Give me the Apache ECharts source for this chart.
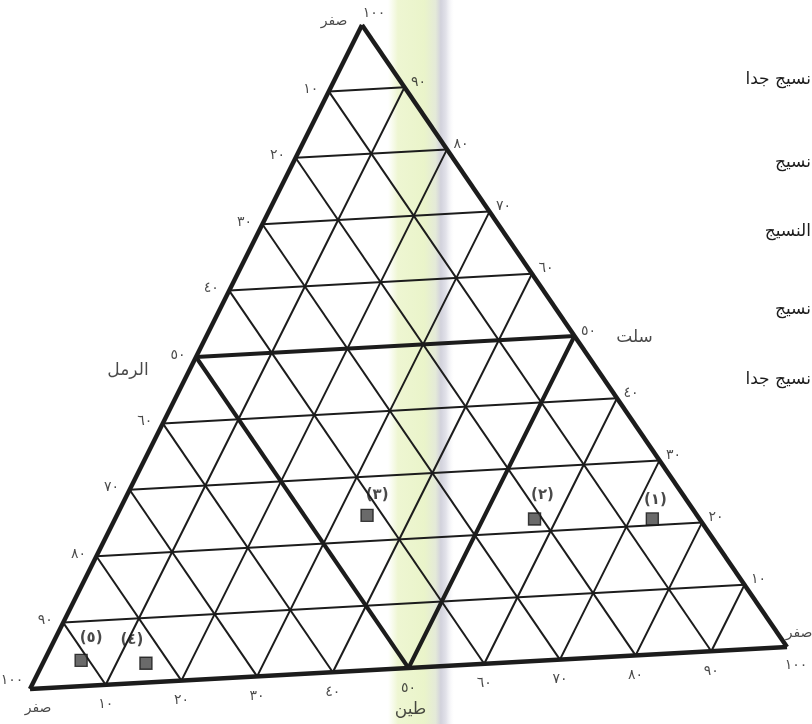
<!DOCTYPE html>
<html>
<head>
<meta charset="utf-8">
<script src="https://cdn.jsdelivr.net/npm/echarts@6/dist/echarts.min.js"></script>
<style>
  html, body { margin: 0; padding: 0; background: #ffffff; }
  #chart { width: 812px; height: 724px; }
</style>
</head>
<body>
<div id="chart"></div>
<script>
// Soil samples: percentages of sand, silt and clay
const sampleNames = ['(١)', '(٢)', '(٣)', '(٤)', '(٥)'];
const sampleSand = [6, 21, 42, 83, 91];
const sampleSilt = [21, 22, 24, 3, 4];
const sampleClay = [73, 57, 34, 14, 5];

// Grid steps and their tick labels (Arabic-Indic digits)
const gridSteps = [10, 20, 30, 40, 50, 60, 70, 80, 90];
const tickLabels = ['١٠', '٢٠', '٣٠', '٤٠', '٥٠', '٦٠', '٧٠', '٨٠', '٩٠'];
const fullLabel = '١٠٠';
const zeroLabel = 'صفر';

// Component names
const sandName = 'الرمل';
const siltName = 'سلت';
const clayName = 'طين';

// Texture classes listed beside the triangle
const textureClasses = ['نسيج جدا', 'نسيج', 'النسيج', 'نسيج', 'نسيج جدا'];

// ---- layout ----
const W = 812, H = 724;
const CORNER_SAND = [30, 689];
const CORNER_SILT = [362, 25];
const CORNER_CLAY = [787, 647];
const textureRowsY = [80, 163, 232, 310, 380];
const sampleLabelOffsets = [[3, -19], [8, -24], [10, -20], [-14, -23], [10, -22]];
const INK = '#1c1c1c';
const FONT = 'DejaVu Sans';

// ternary (sand, silt, clay) -> plot frame
function toXY(sand, silt, clay) {
  const t = sand + silt + clay;
  return [
    (sand * CORNER_SAND[0] + silt * CORNER_SILT[0] + clay * CORNER_CLAY[0]) / t,
    (sand * CORNER_SAND[1] + silt * CORNER_SILT[1] + clay * CORNER_CLAY[1]) / t
  ];
}

// grid lines at every step, the 50 % lines are drawn heavy
const thinLines = [];
const heavyLines = [];
gridSteps.forEach(function (v) {
  const rest = 100 - v;
  const bucket = v === 50 ? heavyLines : thinLines;
  bucket.push({ coords: [toXY(rest, v, 0), toXY(0, v, rest)] });   // constant silt
  bucket.push({ coords: [toXY(v, rest, 0), toXY(v, 0, rest)] });   // constant sand
  bucket.push({ coords: [toXY(rest, 0, v), toXY(0, rest, v)] });   // constant clay
});
const frameLines = [
  { coords: [toXY(100, 0, 0), toXY(0, 0, 100)] },
  { coords: [toXY(0, 0, 100), toXY(0, 100, 0)] },
  { coords: [toXY(0, 100, 0), toXY(100, 0, 0)] }
];

// tick label anchors on each edge
const sandTicks = gridSteps.map(function (v, i) {
  return { name: tickLabels[i], value: toXY(v, 100 - v, 0) };
});
const siltTicks = gridSteps.map(function (v, i) {
  return { name: tickLabels[i], value: toXY(0, v, 100 - v) };
});
const clayTicks = gridSteps.map(function (v, i) {
  return { name: tickLabels[i], value: toXY(100 - v, 0, v) };
});

const samplePoints = sampleNames.map(function (n, i) {
  return {
    name: n,
    value: toXY(sampleSand[i], sampleSilt[i], sampleClay[i]),
    label: { offset: sampleLabelOffsets[i] }
  };
});

function tickSeries(data, offset) {
  return {
    type: 'scatter',
    data: data,
    symbolSize: 1,
    itemStyle: { color: 'rgba(0,0,0,0)' },
    silent: true,
    z: 5,
    label: {
      show: true,
      position: 'inside',
      offset: offset,
      formatter: '{b}',
      color: INK,
      fontFamily: FONT,
      fontSize: 14
    }
  };
}

function textSeries(items, size) {
  return {
    type: 'scatter',
    data: items.map(function (it) { return { name: it.text, value: it.at, label: { offset: it.offset } }; }),
    symbolSize: 1,
    itemStyle: { color: 'rgba(0,0,0,0)' },
    silent: true,
    z: 5,
    label: {
      show: true,
      position: 'inside',
      formatter: '{b}',
      color: INK,
      fontFamily: FONT,
      fontSize: size
    }
  };
}

const chart = echarts.init(document.getElementById('chart'), null, { renderer: 'canvas' });

chart.setOption({
  animation: false,
  backgroundColor: '#ffffff',
  grid: { left: 0, right: 0, top: 0, bottom: 0 },
  xAxis: { type: 'value', min: 0, max: W, show: false },
  yAxis: { type: 'value', min: 0, max: H, inverse: true, show: false },
  graphic: {
    elements: [
      {
        type: 'rect', z: -10, silent: true,
        shape: { x: 388, y: 0, width: 66, height: H },
        style: {
          fill: {
            type: 'linear', x: 0, y: 0, x2: 1, y2: 0,
            colorStops: [
              { offset: 0, color: 'rgba(240,247,215,0)' },
              { offset: 0.15, color: 'rgba(238,246,210,1)' },
              { offset: 0.55, color: 'rgba(234,244,202,1)' },
              { offset: 0.72, color: 'rgba(228,234,216,1)' },
              { offset: 0.8, color: 'rgba(210,210,220,1)' },
              { offset: 0.88, color: 'rgba(226,226,234,1)' },
              { offset: 1, color: 'rgba(246,246,249,0)' }
            ]
          }
        }
      }
    ].concat(textureClasses.map(function (t, i) {
      return {
        type: 'text', z: 10, silent: true,
        style: {
          text: t, x: 811, y: textureRowsY[i],
          align: 'right', verticalAlign: 'middle',
          fill: INK, font: '17px "' + FONT + '"'
        }
      };
    }))
  },
  series: [
    {
      type: 'lines', coordinateSystem: 'cartesian2d', silent: true, z: 2,
      data: thinLines,
      lineStyle: { color: INK, width: 2, opacity: 1 }
    },
    {
      type: 'lines', coordinateSystem: 'cartesian2d', silent: true, z: 3,
      data: heavyLines,
      lineStyle: { color: INK, width: 4, opacity: 1 }
    },
    {
      type: 'lines', coordinateSystem: 'cartesian2d', silent: true, z: 3,
      data: frameLines,
      lineStyle: { color: INK, width: 4.5, opacity: 1 }
    },
    tickSeries(sandTicks, [-18, -2]),
    tickSeries(siltTicks, [14, -5]),
    tickSeries(clayTicks, [0, 20]),
    textSeries([
      { text: fullLabel, at: toXY(100, 0, 0), offset: [-18, -9] },
      { text: zeroLabel, at: toXY(100, 0, 0), offset: [8, 19] },
      { text: zeroLabel, at: toXY(0, 100, 0), offset: [-28, -4] },
      { text: fullLabel, at: toXY(0, 100, 0), offset: [12, -12] },
      { text: fullLabel, at: toXY(0, 0, 100), offset: [9, 18] },
      { text: zeroLabel, at: toXY(0, 0, 100), offset: [12, -14] }
    ], 14),
    textSeries([
      { text: sandName, at: toXY(50, 50, 0), offset: [-68, 14] },
      { text: siltName, at: toXY(0, 50, 50), offset: [60, 2] },
      { text: clayName, at: toXY(50, 0, 50), offset: [2, 42] }
    ], 17),
    {
      type: 'scatter',
      data: samplePoints,
      symbol: 'rect',
      symbolSize: 12,
      z: 6,
      itemStyle: { color: '#454545', borderColor: '#151515', borderWidth: 1.4 },
      label: {
        show: true,
        position: 'inside',
        formatter: '{b}',
        color: INK,
        fontFamily: FONT,
        fontSize: 15,
        fontWeight: 'bold'
      }
    }
  ]
});
</script>
</body>
</html>
